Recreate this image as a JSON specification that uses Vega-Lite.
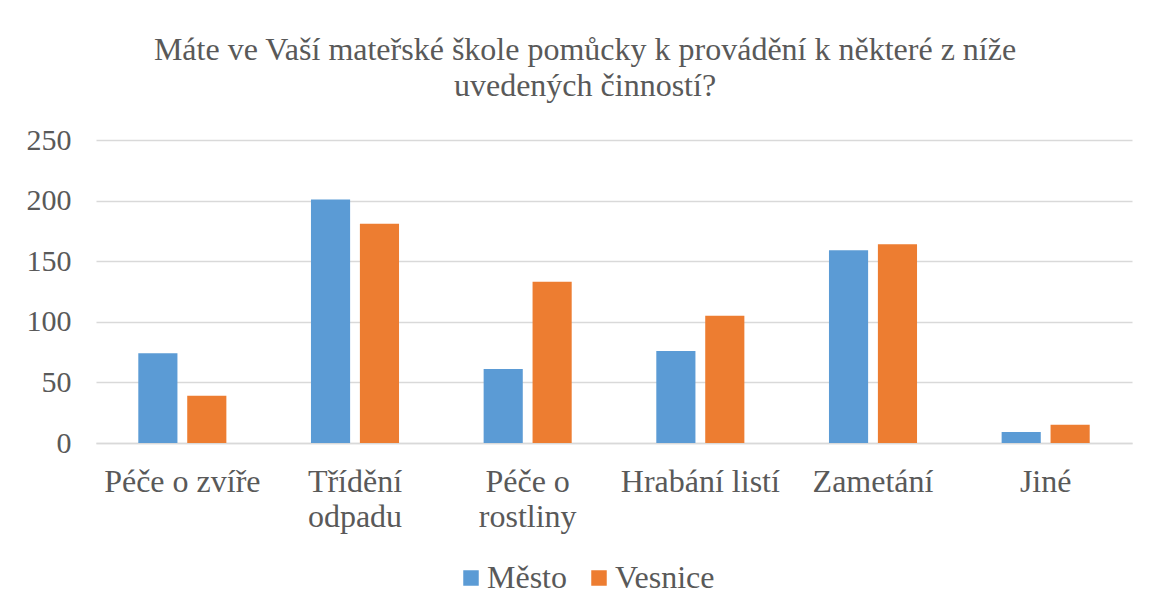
{
  "$schema": "https://vega.github.io/schema/vega-lite/v6.json",
  "width": 1036,
  "height": 303,
  "padding": {"left": 26, "top": 34, "right": 10, "bottom": 10},
  "background": "white",
  "title": {
    "text": ["Máte ve Vaší mateřské škole pomůcky k provádění k některé z níže", "uvedených činností?"],
    "font": "Liberation Serif",
    "fontSize": 32,
    "fontWeight": "normal",
    "color": "#595959",
    "lineHeight": 36,
    "anchor": "middle",
    "dx": -29,
    "offset": 22
  },
  "data": {
    "values": [
      {"kategorie": "Péče o zvíře", "skupina": "Město", "pocet": 74},
      {"kategorie": "Péče o zvíře", "skupina": "Vesnice", "pocet": 39},
      {"kategorie": "Třídění odpadu", "skupina": "Město", "pocet": 201},
      {"kategorie": "Třídění odpadu", "skupina": "Vesnice", "pocet": 181},
      {"kategorie": "Péče o rostliny", "skupina": "Město", "pocet": 61},
      {"kategorie": "Péče o rostliny", "skupina": "Vesnice", "pocet": 133},
      {"kategorie": "Hrabání listí", "skupina": "Město", "pocet": 76},
      {"kategorie": "Hrabání listí", "skupina": "Vesnice", "pocet": 105},
      {"kategorie": "Zametání", "skupina": "Město", "pocet": 159},
      {"kategorie": "Zametání", "skupina": "Vesnice", "pocet": 164},
      {"kategorie": "Jiné", "skupina": "Město", "pocet": 9},
      {"kategorie": "Jiné", "skupina": "Vesnice", "pocet": 15}
    ]
  },
  "mark": {"type": "bar"},
  "encoding": {
    "x": {
      "field": "kategorie",
      "type": "nominal",
      "sort": null,
      "scale": {"paddingInner": 0.49, "paddingOuter": 0.245},
      "axis": {
        "title": null,
        "labelAngle": 0,
        "labelFont": "Liberation Serif",
        "labelFontSize": 32,
        "labelColor": "#595959",
        "labelLineHeight": 35,
        "labelPadding": 23,
        "ticks": false,
        "domain": true,
        "domainColor": "#d9d9d9",
        "domainWidth": 1.5,
        "labelExpr": "datum.value == 'Třídění odpadu' ? ['Třídění', 'odpadu'] : datum.value == 'Péče o rostliny' ? ['Péče o', 'rostliny'] : datum.value"
      }
    },
    "xOffset": {
      "field": "skupina",
      "type": "nominal",
      "scale": {"paddingInner": 0.2}
    },
    "y": {
      "field": "pocet",
      "type": "quantitative",
      "scale": {"domain": [0, 250]},
      "axis": {
        "title": null,
        "values": [0, 50, 100, 150, 200, 250],
        "labelFont": "Liberation Serif",
        "labelFontSize": 30,
        "labelColor": "#595959",
        "labelPadding": 25,
        "ticks": false,
        "domain": false,
        "gridColor": "#d9d9d9",
        "gridWidth": 1.5
      }
    },
    "color": {
      "field": "skupina",
      "type": "nominal",
      "scale": {"domain": ["Město", "Vesnice"], "range": ["#5B9BD5", "#ED7D31"]},
      "legend": {
        "title": null,
        "orient": "none",
        "direction": "horizontal",
        "legendX": 359,
        "legendY": 422,
        "symbolType": "square",
        "symbolSize": 240,
        "symbolStrokeWidth": 0,
        "labelFont": "Liberation Serif",
        "labelFontSize": 32,
        "labelColor": "#595959",
        "labelOffset": 0,
        "columnPadding": 16
      }
    }
  },
  "config": {
    "view": {"stroke": null}
  }
}
